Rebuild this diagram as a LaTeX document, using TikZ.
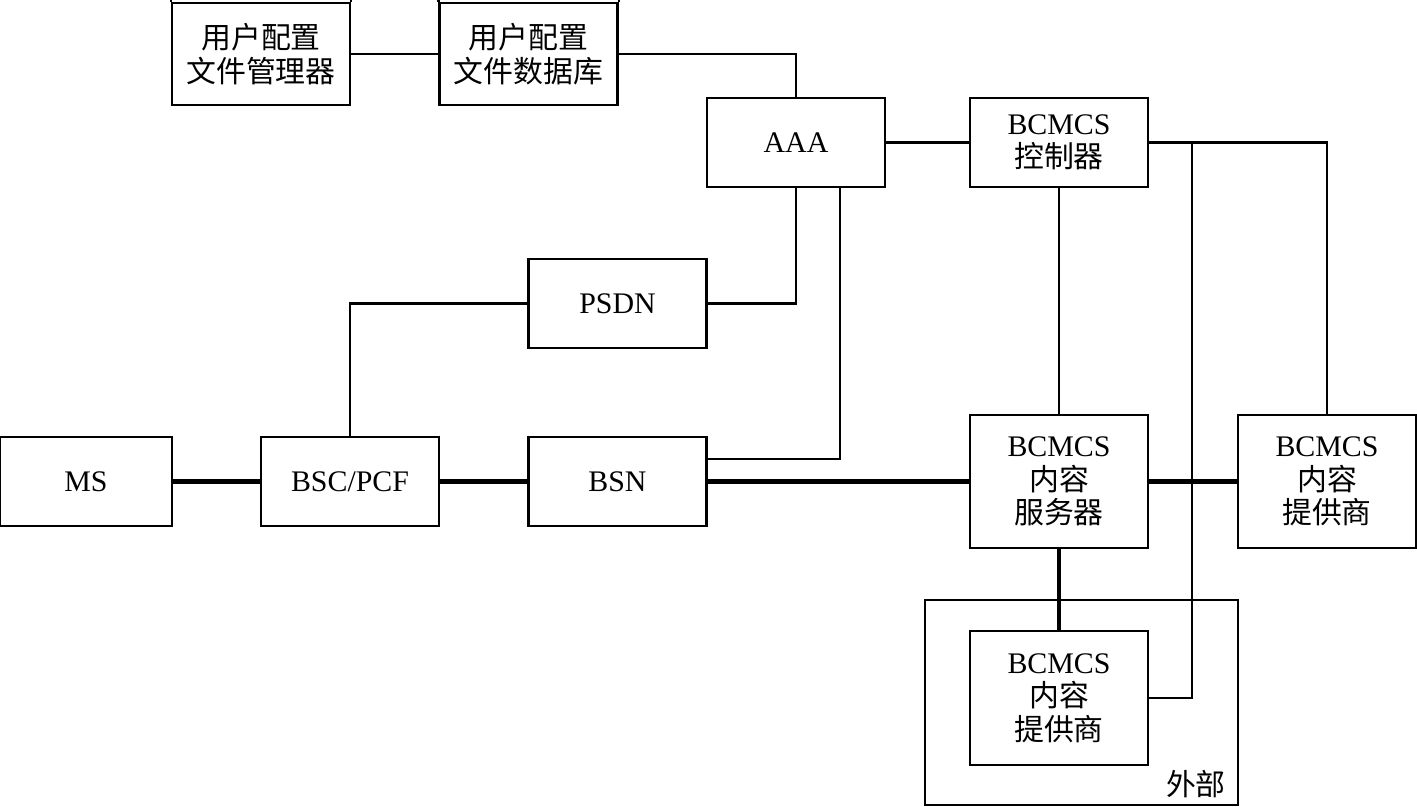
\documentclass[tikz,border=0pt]{standalone}
\usepackage{fontspec}
\setmainfont{Liberation Serif}
\newfontfamily\cjk{Noto Sans CJK SC}
\usetikzlibrary{calc}

\tikzset{
  unit/.style={draw,line width=1.3pt,minimum width=3.56cm,minimum height=1.78cm,
    inner sep=0pt,align=center,font=\fontsize{17}{19}\selectfont},
  tallunit/.style={unit,minimum height=2.67cm},
  link/.style={line width=1.2pt},
  faint/.style={line width=0.8pt},
  bearer/.style={line width=2.6pt}
}

\begin{document}
\begin{tikzpicture}[x=0.2mm,y=-0.2mm]
      \useasboundingbox (0,0) rectangle (1417,806);
      % upper row
      \node[unit,minimum height=2.04cm] (mgr) at (261,54) {{\cjk 用户配置}\\{\cjk 文件管理器}};
      \node[unit,minimum height=2.04cm] (db) at (528.5,54) {{\cjk 用户配置}\\{\cjk 文件数据库}};
      \draw[line width=1.3pt] (mgr.north west) -- ++(0,-5) (mgr.north east) -- ++(0,-5)
            (db.north west) -- ++(0,-5) (db.north east) -- ++(0,-5);
      \node[unit] (aaa) at (796,142.5) {AAA};
      \node[unit] (ctrl) at (1059,142.5) {BCMCS\\{\cjk 控制器}};
      \node[unit] (psdn) at (617.5,303.5) {PSDN};
      % access row
      \node[unit,minimum width=3.44cm] (ms) at (86,481.5) {MS};
      \node[unit] (bsc) at (350,481.5) {BSC/PCF};
      \node[unit] (bsn) at (617.5,481.5) {BSN};
      \node[tallunit] (srv) at (1059,481.5) {BCMCS\\{\cjk 内容}\\{\cjk 服务器}};
      \node[tallunit] (prov) at (1327,481.5) {BCMCS\\{\cjk 内容}\\{\cjk 提供商}};
      % external part
      \node[draw,line width=1.3pt,minimum width=6.26cm,minimum height=4.1cm,inner sep=0pt] (ext) at (1081.5,702.5) {};
      \node[anchor=south east,inner sep=0pt,font=\fontsize{17}{19}\selectfont\cjk] (extlbl) at ([xshift=-0.26cm,yshift=0.16cm]ext.south east) {外部};
      \node[tallunit] (xprov) at (1059,698) {BCMCS\\{\cjk 内容}\\{\cjk 提供商}};
      \coordinate (tap) at (1192,142.5);
      % signalling
      \draw[link] (mgr) -- (db);
      \draw[link] (db.east) -| (aaa.north);
      \draw[link] (aaa) -- (ctrl);
      \draw[link] (aaa.south) |- (psdn.east);
      \draw[link] ([xshift=0.88cm]aaa.south) |- ([yshift=0.45cm]bsn.east);
      \draw[link] (psdn.west) -| (bsc.north);
      \draw[link] (ctrl.east) -| (prov.north);
      \draw[faint] (ctrl) -- (srv);
      \draw[faint] (xprov.east) -| (tap);
      % bearer
      \draw[bearer] (ms) -- (bsc);
      \draw[bearer] (bsc) -- (bsn);
      \draw[bearer] (bsn) -- (srv);
      \draw[bearer] (srv) -- (prov);
      \draw[bearer] (srv) -- (xprov);
\end{tikzpicture}
\end{document}
